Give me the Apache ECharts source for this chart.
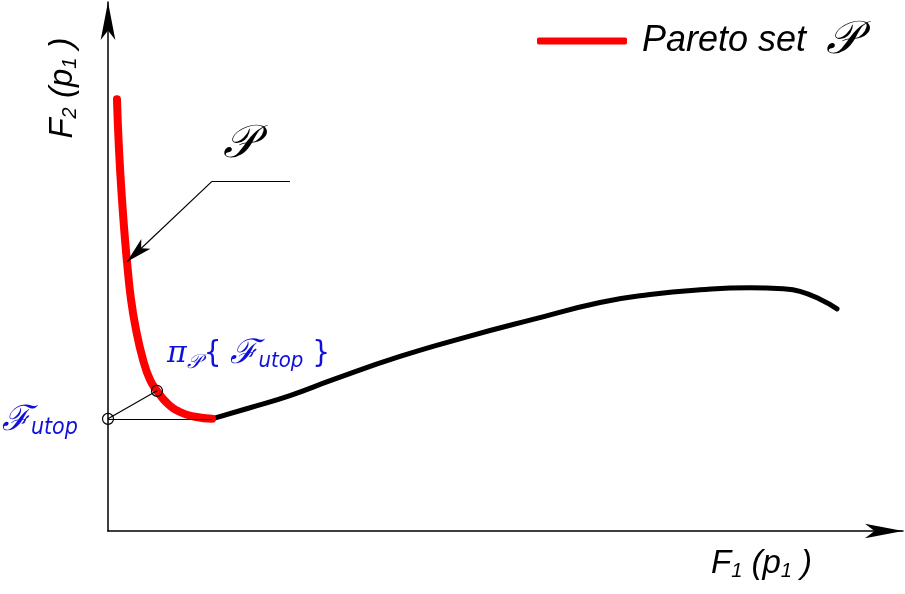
<!DOCTYPE html>
<html>
<head>
<meta charset="utf-8">
<script src="https://cdn.jsdelivr.net/npm/echarts@6/dist/echarts.min.js"></script>
<style>
  html, body { margin: 0; padding: 0; background: #fff; }
  #chart { width: 905px; height: 594px; }
</style>
</head>
<body>
<div id="chart"></div>
<script>
// Pareto set (red) in objective space F1 / F2
const paretoF1 = [0.113, 0.138, 0.176, 0.214, 0.239, 0.289, 0.352, 0.440, 0.528, 0.616, 0.742, 0.906, 1.094, 1.308];
const paretoF2 = [8.16, 7.22, 6.27, 5.51, 5.09, 4.38, 3.81, 3.24, 2.86, 2.65, 2.42, 2.25, 2.16, 2.12];
// remaining part of the objective curve (black)
const curveF1 = [1.308, 1.786, 2.289, 2.830, 3.673, 4.516, 5.346, 6.189, 6.818, 7.447, 8.075, 8.491, 8.704, 8.956, 9.170];
const curveF2 = [2.12, 2.33, 2.56, 2.86, 3.30, 3.67, 4.00, 4.32, 4.47, 4.56, 4.60, 4.58, 4.53, 4.38, 4.20];
// utopia point and its projection onto the Pareto set
const utopiaPoint = [0, 2.12];
const projectionPoint = [0.616, 2.65];
// callout leader: arrow tip on the Pareto set, elbow, end of shelf
const leaderTip = [0.239, 5.09];
const leaderElbow = [1.308, 6.61];
const leaderEnd = [2.289, 6.61];

const BLUE = '#1010d8';
const SCRIPT = "'DejaVu Serif', 'Liberation Serif', serif";
const SANS = "'Liberation Sans', Arial, sans-serif";
const NARROW = "'Liberation Sans Narrow', 'DejaVu Sans Condensed', 'Liberation Sans', sans-serif";

const zip = (xs, ys) => xs.map((x, i) => [x, ys[i]]);

const axisRich = {
  t: { fontFamily: SANS, fontStyle: 'italic', fontSize: 33, color: '#000' },
  sub: { fontFamily: SANS, fontStyle: 'italic', fontSize: 20, color: '#000', padding: [15, 0, 0, 0] }
};

const chart = echarts.init(document.getElementById('chart'), null, { renderer: 'canvas' });

chart.setOption({
  animation: false,
  backgroundColor: '#fff',
  grid: { left: 108, right: 2, top: 2, bottom: 63 },
  legend: {
    data: ['Pareto set'],
    left: 532,
    top: 13,
    icon: 'roundRect',
    itemWidth: 90,
    itemHeight: 7,
    itemStyle: { color: '#ff0000' },
    formatter: name => name + '  {p|𝒫}',
    textStyle: {
      fontFamily: SANS, fontStyle: 'italic', fontSize: 36, color: '#000',
      padding: [0, 0, 0, 10],
      rich: { p: { fontFamily: SCRIPT, fontStyle: 'italic', fontSize: 46, color: '#000' } }
    }
  },
  xAxis: {
    type: 'value', min: 0, max: 10,
    axisLine: { lineStyle: { color: '#000', width: 1.5 }, symbol: ['none', 'arrow'], symbolSize: [11, 38] },
    axisTick: { show: false }, axisLabel: { show: false }, splitLine: { show: false },
    name: '{t|F}{sub|1}{t| (p}{sub|1}{t| )}',
    nameLocation: 'end',
    nameGap: -192,
    nameTextStyle: { align: 'left', verticalAlign: 'top', padding: [15, 0, 0, 0], rich: axisRich }
  },
  yAxis: {
    type: 'value', min: 0, max: 10,
    axisLine: { lineStyle: { color: '#000', width: 1.5 }, symbol: ['none', 'arrow'], symbolSize: [11, 38] },
    axisTick: { show: false }, axisLabel: { show: false }, splitLine: { show: false },
    name: '{t|F}{sub|2}{t| (p}{sub|1}{t| )}',
    nameLocation: 'end',
    nameRotate: 90,
    nameGap: -86,
    nameTextStyle: { align: 'center', verticalAlign: 'bottom', padding: [0, 0, 28, 0], rich: axisRich }
  },
  series: [
    {
      name: 'curve', type: 'line', data: zip(curveF1, curveF2),
      smooth: 0.5, showSymbol: false, silent: true, z: 2,
      lineStyle: { color: '#000', width: 5, cap: 'round' }
    },
    {
      name: 'Pareto set', type: 'line', data: zip(paretoF1, paretoF2),
      smooth: 0.5, showSymbol: false, silent: true, z: 3,
      itemStyle: { color: '#ff0000' },
      lineStyle: { color: '#ff0000', width: 8, cap: 'round' }
    },
    {
      // construction lines: utopia -> projection, utopia -> end of Pareto set, callout leader
      name: 'construction', type: 'line', data: [], silent: true, z: 4,
      markLine: {
        silent: true, animation: false,
        symbol: ['none', 'none'],
        label: { show: false },
        lineStyle: { color: '#000', width: 1.2, type: 'solid' },
        data: [
          [{ coord: utopiaPoint }, { coord: projectionPoint }],
          [{ coord: utopiaPoint }, { coord: [paretoF1[paretoF1.length - 1], utopiaPoint[1]] }],
          [{ coord: leaderEnd }, { coord: leaderElbow }],
          [{ coord: leaderElbow, symbol: 'none' }, { coord: leaderTip, symbol: 'arrow', symbolSize: [10, 26] }]
        ]
      }
    },
    {
      name: 'points', type: 'scatter', silent: true, z: 5,
      symbol: 'circle', symbolSize: 11,
      itemStyle: { color: 'rgba(255,255,255,0)', borderColor: '#000', borderWidth: 1.2, opacity: 1 },
      data: [
        {
          value: utopiaPoint,
          label: {
            show: true, position: 'left', distance: 30, offset: [6, 2], opacity: 1,
            formatter: '{F|ℱ}{s|utop}',
            rich: {
              F: { fontFamily: SCRIPT, fontStyle: 'italic', fontSize: 35, color: BLUE },
              s: { fontFamily: NARROW, fontStyle: 'italic', fontSize: 23, color: BLUE, padding: [14, 0, 0, 0] }
            }
          }
        },
        {
          value: projectionPoint,
          label: {
            show: true, position: 'right', distance: 4, offset: [0, -37], opacity: 1,
            formatter: '{pi|π}{ps|𝒫}{b|{ }{F|ℱ}{s|utop}{b| }}',
            rich: {
              pi: { fontFamily: SCRIPT, fontStyle: 'italic', fontSize: 30, color: BLUE },
              ps: { fontFamily: SCRIPT, fontStyle: 'italic', fontSize: 20, color: BLUE, padding: [18, 3, 0, 0] },
              b: { fontFamily: NARROW, fontSize: 31, color: BLUE },
              F: { fontFamily: SCRIPT, fontStyle: 'italic', fontSize: 34, color: BLUE },
              s: { fontFamily: NARROW, fontStyle: 'italic', fontSize: 22, color: BLUE, padding: [14, 0, 0, 0] }
            },
            color: BLUE, fontFamily: NARROW, fontSize: 31
          }
        }
      ]
    },
    {
      name: 'callout', type: 'scatter', silent: true, z: 5,
      symbolSize: 0,
      itemStyle: { opacity: 1 },
      data: [
        {
          value: leaderElbow,
          label: {
            show: true, position: 'inside', offset: [28, -36], opacity: 1,
            formatter: '𝒫',
            fontFamily: SCRIPT, fontStyle: 'italic', fontSize: 46, color: '#000'
          }
        }
      ]
    }
  ]
});
</script>
</body>
</html>
